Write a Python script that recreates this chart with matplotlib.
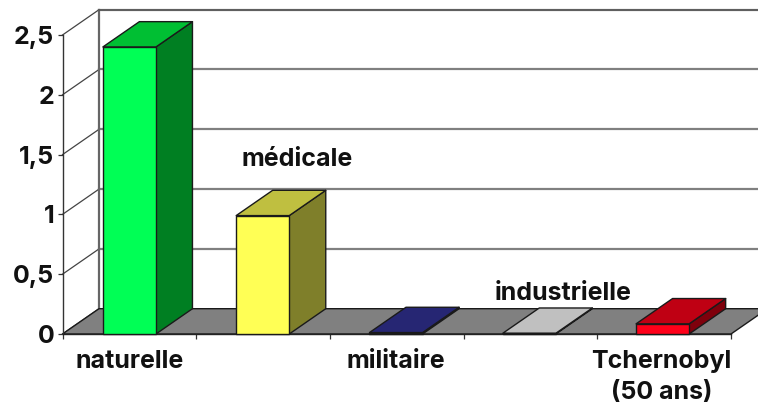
import matplotlib
matplotlib.use("Agg")
import matplotlib.pyplot as plt

plt.rcParams['font.family'] = ['Inter', 'Liberation Sans', 'DejaVu Sans']

CATEGORIES = ["naturelle", "médicale", "militaire", "industrielle", "Tchernobyl\n(50 ans)"]
VALUES = [2.4, 0.99, 0.012, 0.006, 0.085]
Y_TICKS = [0, 0.5, 1, 1.5, 2, 2.5]
Y_LABELS = ["0", "0,5", "1", "1,5", "2", "2,5"]
# (front, top, side)
COLORS = [
    ("#00FF55", "#00BF33", "#007F22"),
    ("#FFFF55", "#BFBF40", "#7F7F2A"),
    ("#333399", "#262673", "#1A1A4D"),
    ("#C0C0C0", "#C0C0C0", "#808080"),
    ("#FF0019", "#BF0013", "#7F000C"),
]

W, H = 758, 404
X0, X1 = 62.5, 731.0
Y0, Y1 = 334.0, 35.0
DX = 36.5 / (X1 - X0) * 5    # depth of the 3d box, data units
DY = 25.3 / (Y0 - Y1) * 2.5
BAR_OFFSET = 0.302
BAR_STEP = 0.997
BAR_W = 0.397
FS = 18
EDGE = "#1a1a1a"

fig = plt.figure(figsize=(W / 100, H / 100), dpi=100)
ax = fig.add_axes([X0 / W, 1 - Y0 / H, (X1 - X0) / W, (Y0 - Y1) / H])
ax.set_xlim(0, 5)
ax.set_ylim(0, 2.5)
ax.patch.set_visible(False)

for s in ["top", "right"]:
    ax.spines[s].set_visible(False)
ax.spines["left"].set_color("#333333")
ax.spines["left"].set_linewidth(1.0)
ax.spines["bottom"].set_color("#222222")
ax.spines["bottom"].set_linewidth(1.0)
ax.spines["left"].set_zorder(1)
ax.spines["bottom"].set_zorder(2)


def poly(xs, ys, color, z, edge=EDGE, lw=1.0):
    ax.fill(xs, ys, facecolor=color, edgecolor=edge, linewidth=lw, clip_on=False,
            zorder=z, joinstyle="round")


# floor
poly([0, 5, 5 + DX, DX], [0, 0, DY, DY], "#808080", 1)

# back wall and side wall lines
for v in Y_TICKS:
    if v > 0:
        ax.plot([DX, 5 + DX], [v + DY, v + DY], color="#808080", lw=1.6, clip_on=False, zorder=0.5)
    ax.plot([0, DX], [v, v + DY], color="#444444", lw=0.9, clip_on=False, zorder=0.6)
ax.plot([DX, DX], [DY, 2.5 + DY], color="#666666", lw=1.6, clip_on=False, zorder=0.7)
ax.plot([DX, 5 + DX], [2.5 + DY, 2.5 + DY], color="#555555", lw=1.1, clip_on=False, zorder=0.7)

# bars
for i, (v, c) in enumerate(zip(VALUES, COLORS)):
    x0 = i * BAR_STEP + BAR_OFFSET
    x1 = x0 + BAR_W
    poly([x1, x1 + DX, x1 + DX, x1], [0, DY, v + DY, v], c[2], 3)
    poly([x0, x1, x1 + DX, x0 + DX], [v, v, v + DY, v + DY], c[1], 3)
    poly([x0, x1, x1, x0], [0, 0, v, v], c[0], 4)

# axis ticks and labels
ax.set_yticks(Y_TICKS)
ax.set_yticklabels(Y_LABELS, fontsize=FS, fontweight="bold", color="#111111")
ax.tick_params(axis="y", length=3.5, width=0.9, color="#333333", pad=2.5)
ax.set_xticks(range(6), minor=True)
ax.tick_params(axis="x", which="minor", length=3.5, width=0.9, color="#333333")
ax.set_xticks([0.5, 2.49, 4.48])
ax.set_xticklabels([CATEGORIES[i] for i in (0, 2, 4)], fontsize=FS, fontweight="bold",
                   color="#111111", linespacing=1.45)
ax.tick_params(axis="x", which="major", length=0, pad=11.5)

# staggered labels sit inside the plot
ax.text(1.754, 1.46, CATEGORIES[1], ha="center", va="center", fontsize=FS,
        fontweight="bold", color="#111111", zorder=6)
ax.text(3.743, 0.335, CATEGORIES[3], ha="center", va="center", fontsize=FS,
        fontweight="bold", color="#111111", zorder=6)

fig.savefig("out.png", dpi=100, facecolor="white")
